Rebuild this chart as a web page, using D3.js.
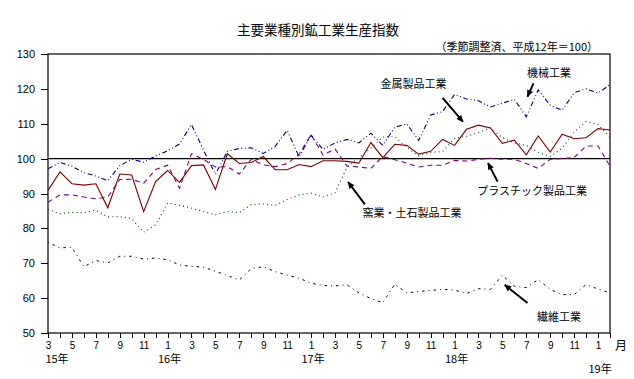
<!DOCTYPE html>
<meta charset="utf-8">
<style>
body { margin: 0; background: #fff; }
text { font-family: "Liberation Sans", Arial, sans-serif; fill: #000; }
.jp { font-family: "Noto Sans CJK JP", sans-serif; }
.axis path, .axis line { stroke: #000; shape-rendering: crispEdges; }
.axis path { display: none; }
.series { fill: none; }
</style>
<body>
<div id="main"></div>
<script src="https://d3js.org/d3.v7.min.js"></script>
<script>
// months, H15.3 .. H19.2
var months = [
	"15/3","15/4","15/5","15/6","15/7","15/8","15/9","15/10","15/11","15/12",
	"16/1","16/2","16/3","16/4","16/5","16/6","16/7","16/8","16/9","16/10","16/11","16/12",
	"17/1","17/2","17/3","17/4","17/5","17/6","17/7","17/8","17/9","17/10","17/11","17/12",
	"18/1","18/2","18/3","18/4","18/5","18/6","18/7","18/8","18/9","18/10","18/11","18/12",
	"19/1","19/2"
];
var yearLabels = ["15年", "16年", "17年", "18年", "19年"];
var yearMonths = ["15/3", "16/1", "17/1", "18/1", "19/1"];
var yTicks = [50, 60, 70, 80, 90, 100, 110, 120, 130];

// 機械工業
var kikai = [97.1, 98.9, 97.8, 96.0, 95.0, 93.7, 98.0, 99.8, 99.0, 100.8, 102.2, 104.2,
	109.8, 102.5, 95.5, 102.1, 102.9, 103.1, 101.5, 103.5, 108.1, 100.5, 106.7, 102.6,
	104.5, 105.5, 104.5, 107.3, 103.8, 109.0, 110.0, 105.2, 112.5, 113.5, 118.4, 117.1,
	116.6, 114.8, 115.9, 117.0, 112.0, 119.7, 115.3, 113.9, 118.9, 120.0, 118.8, 121.2];
// 金属製品工業
var kinzoku = [90.9, 96.2, 92.8, 92.4, 92.8, 85.9, 95.6, 95.3, 84.8, 93.4, 96.6, 93.2,
	98.0, 98.2, 91.2, 101.4, 98.6, 98.9, 100.6, 96.8, 96.8, 98.3, 97.7, 99.4,
	99.4, 99.2, 98.7, 104.6, 100.3, 104.1, 103.8, 101.3, 102.1, 105.5, 103.8, 108.4,
	109.6, 108.8, 104.4, 105.3, 101.1, 106.5, 101.9, 107.0, 105.7, 106.0, 108.6, 108.2];
// プラスチック製品工業
var plastic = [87.5, 89.6, 89.6, 89.0, 88.5, 89.0, 94.0, 94.1, 92.9, 96.9, 98.1, 91.5,
	101.4, 99.8, 97.6, 97.7, 95.6, 99.8, 98.2, 97.7, 98.6, 101.2, 106.9, 101.0,
	102.8, 97.9, 97.6, 97.2, 100.6, 99.7, 98.7, 97.6, 98.1, 98.1, 99.5, 99.3,
	99.8, 100.1, 99.8, 99.8, 98.6, 97.2, 99.8, 100.0, 100.3, 103.6, 103.6, 97.8];
// 窯業・土石製品工業
var yogyo = [85.5, 84.2, 84.6, 84.5, 85.2, 83.3, 83.4, 82.8, 78.9, 81.0, 87.3, 86.6,
	85.8, 84.8, 83.9, 84.8, 84.5, 86.8, 87.0, 86.6, 88.3, 89.6, 90.1, 89.0,
	90.2, 97.5, 100.3, 103.0, 106.2, 106.3, 103.2, 100.8, 101.8, 102.0, 105.8, 106.4,
	107.5, 108.8, 106.0, 104.5, 103.8, 101.8, 100.6, 103.0, 107.6, 110.7, 109.8, 106.0];
// 繊維工業
var seni = [76.0, 74.4, 74.6, 69.0, 70.8, 70.1, 72.0, 72.0, 71.2, 71.5, 71.0, 69.5,
	69.1, 68.9, 67.7, 66.5, 65.2, 68.5, 69.0, 67.6, 66.6, 65.7, 64.3, 63.6,
	63.5, 63.8, 61.5, 59.9, 58.7, 64.0, 61.5, 61.9, 62.2, 62.5, 62.3, 61.3,
	62.7, 62.5, 66.6, 63.4, 63.0, 65.3, 62.5, 61.0, 61.0, 63.9, 62.6, 61.5];

function visualize() {
	var svg = d3.select("#main").append("svg")
		.attr("width", 634)
		.attr("height", 379);

	var left = 48, right = 610, top = 54, bottom = 333;

	var x = d3.scaleLinear().domain([0, months.length - 1]).range([left, right]);
	var y = d3.scaleLinear().domain([50, 130]).range([bottom, top]);

	// title
	svg.append("text").attr("class", "jp")
		.attr("x", 318).attr("y", 35)
		.attr("text-anchor", "middle")
		.style("font-size", "13.5px")
		.text("主要業種別鉱工業生産指数");
	svg.append("text").attr("class", "jp")
		.attr("x", 598).attr("y", 51)
		.attr("text-anchor", "end")
		.style("font-size", "11px")
		.text("（季節調整済、平成12年＝100）");

	// plot frame
	svg.append("rect")
		.attr("x", left).attr("y", top)
		.attr("width", right - left).attr("height", bottom - top)
		.attr("fill", "none").attr("stroke", "#000").attr("stroke-width", 1.2);

	// y axis
	var yAxis = svg.append("g").attr("class", "axis")
		.attr("transform", "translate(" + left + ",0)")
		.call(d3.axisLeft(y).tickValues(yTicks).tickSize(7).tickPadding(6));
	yAxis.selectAll("text").style("font-size", "11px");

	// x axis, labels on odd months only
	var xAxis = svg.append("g").attr("class", "axis")
		.attr("transform", "translate(0," + bottom + ")")
		.call(d3.axisBottom(x).tickValues(d3.range(months.length)).tickSize(5).tickPadding(4)
			.tickFormat(function(i) {
				var m = +months[i].split("/")[1];
				return m % 2 ? m : "";
			}));
	xAxis.selectAll("text").style("font-size", "10px");

	svg.append("text").attr("class", "jp")
		.attr("x", 621).attr("y", 350)
		.attr("text-anchor", "middle")
		.style("font-size", "12px")
		.text("月");

	// year labels under the month labels
	svg.selectAll(".year")
		.data(yearLabels)
		.enter().append("text")
		.attr("class", "year jp")
		.attr("x", function(d, k) { return x(months.indexOf(yearMonths[k])) + (k == 0 ? 9 : 2); })
		.attr("y", function(d, k) { return k == yearLabels.length - 1 ? 373 : 363; })
		.attr("text-anchor", "middle")
		.style("font-size", "11px")
		.text(function(d) { return d; });

	// 100 reference line
	svg.append("line")
		.attr("x1", x(0)).attr("x2", x(months.length - 1))
		.attr("y1", y(100)).attr("y2", y(100))
		.attr("stroke", "#000").attr("stroke-width", 1.4);

	var line = d3.line()
		.x(function(d, i) { return x(i); })
		.y(function(d) { return y(d); });

	var series = [
		{ values: seni, color: "#000000", dash: "1,4,2.5,4", width: 1 },
		{ values: yogyo, color: "#005000", dash: "1,3.2", width: 1.1 },
		{ values: plastic, color: "#800080", dash: "5,4", width: 1.1 },
		{ values: kikai, color: "#000080", dash: "5,2.5,1,2.5,1,2.5", width: 1.1 },
		{ values: kinzoku, color: "#800000", dash: null, width: 1.1 }
	];

	svg.selectAll(".series")
		.data(series)
		.enter().append("path")
		.attr("class", "series")
		.attr("d", function(d) { return line(d.values); })
		.attr("stroke", function(d) { return d.color; })
		.attr("stroke-width", function(d) { return d.width; })
		.attr("stroke-dasharray", function(d) { return d.dash; });

	// arrow head
	svg.append("defs").append("marker")
		.attr("id", "head")
		.attr("viewBox", "0 0 10 10")
		.attr("refX", 9).attr("refY", 5)
		.attr("markerWidth", 8).attr("markerHeight", 7)
		.attr("markerUnits", "userSpaceOnUse")
		.attr("orient", "auto")
		.append("path").attr("d", "M0,0.5L10,5L0,9.5Z").attr("fill", "#000");

	// labels: head/tail/text in (month index, value)
	var notes = [
		{ text: "機械工業", head: [40.1, 117.8], tail: [40.6, 121.6], at: [41.9, 124.4], anchor: "middle" },
		{ text: "金属製品工業", head: [34.7, 110.6], tail: [33.0, 117.4], at: [27.8, 121.3], anchor: "start" },
		{ text: "プラスチック製品工業", head: [36.8, 98.7], tail: [37.6, 93.4], at: [35.9, 90.6], anchor: "start" },
		{ text: "窯業・土石製品工業", head: [25.1, 93.3], tail: [26.5, 86.9], at: [26.3, 84.3], anchor: "start" },
		{ text: "繊維工業", head: [38.2, 63.8], tail: [40.1, 58.6], at: [40.9, 54.5], anchor: "start" }
	];

	var note = svg.selectAll(".note")
		.data(notes)
		.enter().append("g")
		.attr("class", "note");

	note.append("line")
		.attr("x1", function(d) { return x(d.tail[0]); })
		.attr("y1", function(d) { return y(d.tail[1]); })
		.attr("x2", function(d) { return x(d.head[0]); })
		.attr("y2", function(d) { return y(d.head[1]); })
		.attr("stroke", "#000").attr("stroke-width", 2)
		.attr("marker-end", "url(#head)");

	note.append("text")
		.attr("class", "jp")
		.attr("x", function(d) { return x(d.at[0]); })
		.attr("y", function(d) { return y(d.at[1]); })
		.attr("dy", "0.35em")
		.attr("text-anchor", function(d) { return d.anchor; })
		.style("font-size", "11px")
		.text(function(d) { return d.text; });
}

window.onload = function() {
	visualize();
};
</script>
</body>
